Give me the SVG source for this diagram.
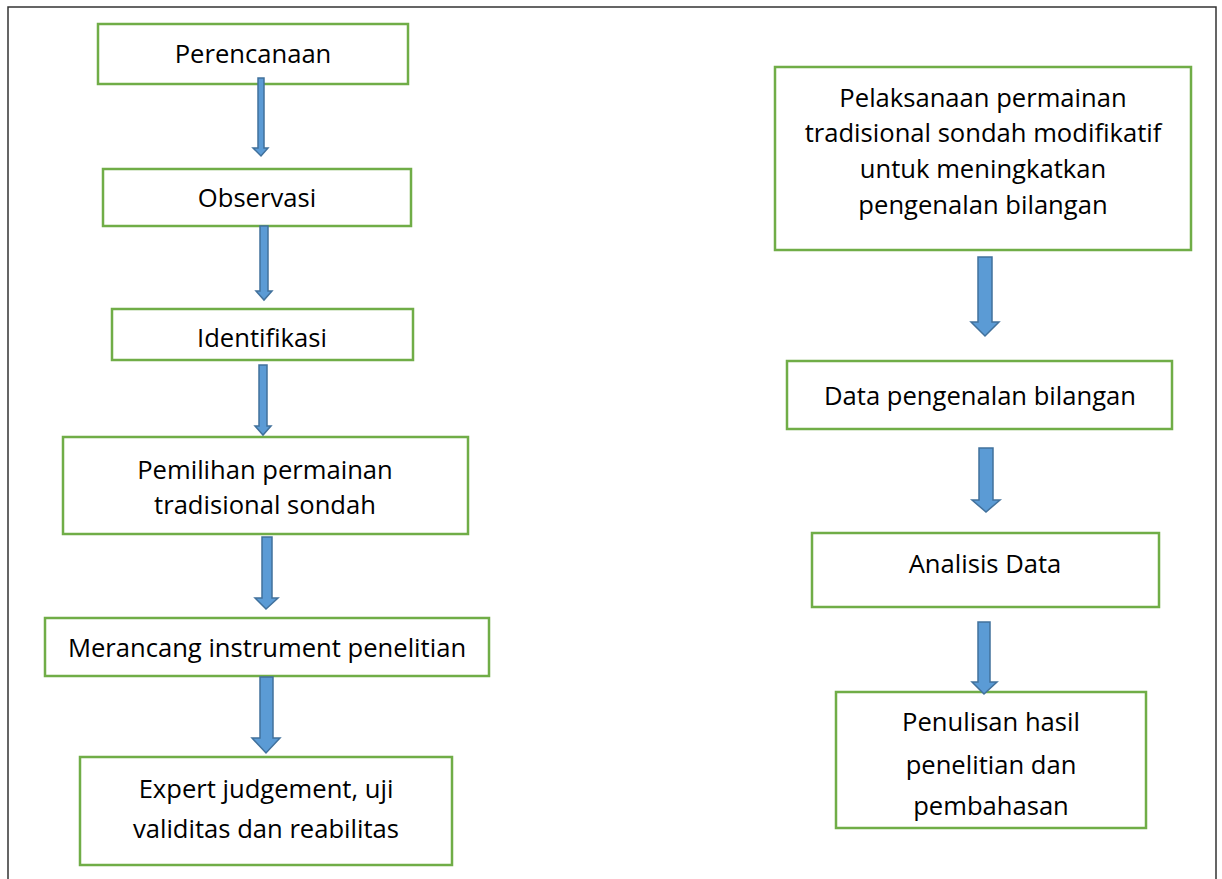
<svg xmlns="http://www.w3.org/2000/svg" width="1222" height="879" viewBox="0 0 1222 879">
<style>
.box{fill:#fff;stroke:#70AD47;stroke-width:2.5}
.t{font-family:"Open Sans","Noto Sans",sans-serif;font-size:25.6px;fill:#000;text-anchor:middle}
.arr{fill:#5B9BD5;stroke:#41719C;stroke-width:1.5}
</style>
<rect x="0" y="0" width="1222" height="879" fill="#fff"/>
<path d="M8,880 V7 H1216 V880" fill="none" stroke="#333" stroke-width="1.5"/>
<g id="n1"><rect class="box" x="98" y="24" width="310" height="60"/><text class="t" x="253" y="63">Perencanaan</text></g>
<g id="n2"><rect class="box" x="103" y="169" width="308" height="57"/><text class="t" x="257" y="207">Observasi</text></g>
<g id="n3"><rect class="box" x="112" y="309" width="301" height="51"/><text class="t" x="262" y="347">Identifikasi</text></g>
<g id="n4"><rect class="box" x="63" y="437" width="405" height="97"/><text class="t" x="265" y="479">Pemilihan permainan</text><text class="t" x="265" y="514">tradisional sondah</text></g>
<g id="n5"><rect class="box" x="45" y="618" width="444" height="58"/><text class="t" x="267" y="657">Merancang instrument penelitian</text></g>
<g id="n6"><rect class="box" x="80" y="757" width="372" height="108"/><text class="t" x="266" y="798">Expert judgement, uji</text><text class="t" x="266" y="838">validitas dan reabilitas</text></g>
<g id="n7"><rect class="box" x="775" y="67" width="416" height="183"/><text class="t" x="983" y="107">Pelaksanaan permainan</text><text class="t" x="983" y="142">tradisional sondah modifikatif</text><text class="t" x="983" y="178">untuk meningkatkan</text><text class="t" x="983" y="214">pengenalan bilangan</text></g>
<g id="n8"><rect class="box" x="787" y="361" width="385" height="68"/><text class="t" x="980" y="405">Data pengenalan bilangan</text></g>
<g id="n9"><rect class="box" x="812" y="533" width="347" height="74"/><text class="t" x="985" y="573">Analisis Data</text></g>
<g id="n10"><rect class="box" x="836" y="692" width="310" height="136"/><text class="t" x="991" y="731">Penulisan hasil</text><text class="t" x="991" y="774">penelitian dan</text><text class="t" x="991" y="815">pembahasan</text></g>
<g id="connectors">
<path class="arr" d="M258,78 H264 V148 H268 L261,156 L253,148 H258 Z"/>
<path class="arr" d="M260,226 H268 V291 H272 L264,300 L256,291 H260 Z"/>
<path class="arr" d="M259,365 H267 V426 H271 L263,435 L255,426 H259 Z"/>
<path class="arr" d="M262,537 H272 V598 H278 L266,609 L255,598 H262 Z"/>
<path class="arr" d="M260,677 H273 V738 H280 L266,753 L252,738 H260 Z"/>
<path class="arr" d="M978,257 H992 V322 H999 L985,336 L971,322 H978 Z"/>
<path class="arr" d="M979,448 H993 V500 H1000 L986,512 L972,500 H979 Z"/>
<path class="arr" d="M978,622 H990 V682 H997 L984,694 L972,682 H978 Z"/>
</g>
</svg>
